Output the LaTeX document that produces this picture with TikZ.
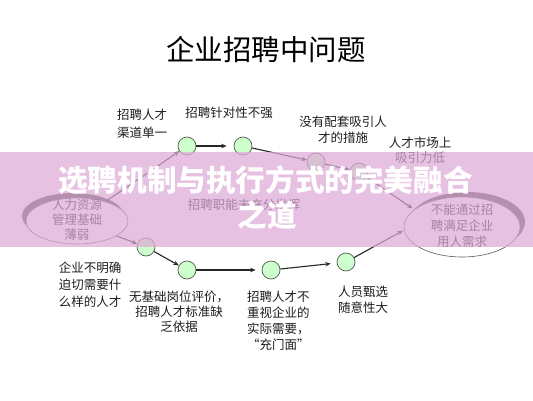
\documentclass[tikz,border=0pt]{standalone}
\usepackage{fontspec}
\setmainfont{Noto Sans CJK SC}
\usetikzlibrary{shapes.geometric,arrows.meta}
\definecolor{dotgreen}{RGB}{204,255,204}
\definecolor{bandpink}{RGB}{222,170,214}
\definecolor{txt}{RGB}{30,30,30}
\definecolor{edge}{RGB}{90,90,90}
\begin{document}
\begin{tikzpicture}[x=1pt,y=-1pt,
  dot/.style={circle,draw=edge,line width=0.7pt,fill=dotgreen,minimum size=18pt,inner sep=0pt},
  arr/.style={-{Stealth[length=5.5pt,width=4.5pt]},line width=1.1pt,draw=black!85},
  lbl/.style={font=\fontsize{12.5}{16}\selectfont,text=txt,align=center,inner sep=0pt},
  oval/.style={ellipse,draw=edge,line width=0.6pt,fill=white,inner sep=0pt},
  ovalshadow/.style={ellipse,fill=black!70,inner sep=0pt},
  banner/.style={font=\fontsize{29.6}{34}\selectfont\bfseries,text=white,inner sep=0pt}]
\useasboundingbox (0,0) rectangle (533,400);
\fill[white] (0,0) rectangle (533,400);
% title
\node[font=\fontsize{28.5}{32}\selectfont,text=black,inner sep=0pt] (title) at (266,50) {企业招聘中问题};
% ellipses with shadows
\node[ovalshadow,minimum width=102pt,minimum height=46pt] (Ls) at (73,216) {};
\node[oval,minimum width=102pt,minimum height=46pt] (L) at (77,221) {};
\node[ovalshadow,minimum width=116pt,minimum height=60pt] (Rs) at (467,222) {};
\node[oval,minimum width=116pt,minimum height=60pt] (R) at (462,227) {};
\node[lbl,font=\fontsize{12.5}{15}\selectfont] (Lt) at (77,220) {人力资源\\管理基础\\薄弱};
\node[lbl,font=\fontsize{12.5}{16}\selectfont] (Rt) at (462,226) {不能通过招\\聘满足企业\\用人需求};
% dots
\node[dot] (A) at (187,146) {};
\node[dot] (B) at (243,146) {};
\node[dot] (C) at (316,162) {};
\node[dot] (D) at (359,172) {};
\node[dot] (E) at (146,247) {};
\node[dot] (F) at (187,270) {};
\node[dot] (G) at (271,270) {};
\node[dot] (H) at (346,262) {};
% connectors
\draw[arr] (L) -- (A);
\draw[arr,shorten >=7pt] (A) -- (B);
\draw[arr] (B) -- (C);
\draw[arr] (C) -- (D);
\draw[arr,shorten >=2pt] (D) -- (R.160);
\draw[arr] (L) -- (E);
\draw[arr] (E) -- (F);
\draw[arr,shorten >=6pt] (F) -- (G);
\draw[arr,shorten >=6pt] (G) -- (H);
\draw[arr,shorten >=1pt] (H) -- (R.183);
% labels
\node[lbl,font=\fontsize{12.5}{18}\selectfont] (la) at (142,124) {招聘人才\\渠道单一};
\node[lbl] (lb) at (229,113) {招聘针对性不强};
\node[lbl] (lc) at (343,130) {没有配套吸引人\\才的措施};
\node[lbl,font=\fontsize{12.5}{15}\selectfont] (ld) at (420,150) {人才市场上\\吸引力低};
\node[lbl] (lm) at (244,205) {招聘职能未充分发挥};
\node[lbl,align=left,font=\fontsize{12.5}{17}\selectfont] (le) at (90,285) {企业不明确\\迫切需要什\\么样的人才};
\node[lbl,font=\fontsize{12.5}{15}\selectfont] (lf) at (179,312) {无基础岗位评价，\\招聘人才标准缺\\乏依据};
\node[lbl,align=left,anchor=west] (lg) at (247,321) {招聘人才不\\重视企业的\\实际需要，\\“充门面”};
\node[lbl,align=left,anchor=west] (lh) at (338,300) {人员甄选\\随意性大};
% overlay band
\fill[bandpink,opacity=0.72] (0,152) rectangle (533,247);
\node[banner] (b1) at (265.5,180) {选聘机制与执行方式的完美融合};
\node[banner] (b2) at (267,215) {之道};
\end{tikzpicture}
\end{document}
